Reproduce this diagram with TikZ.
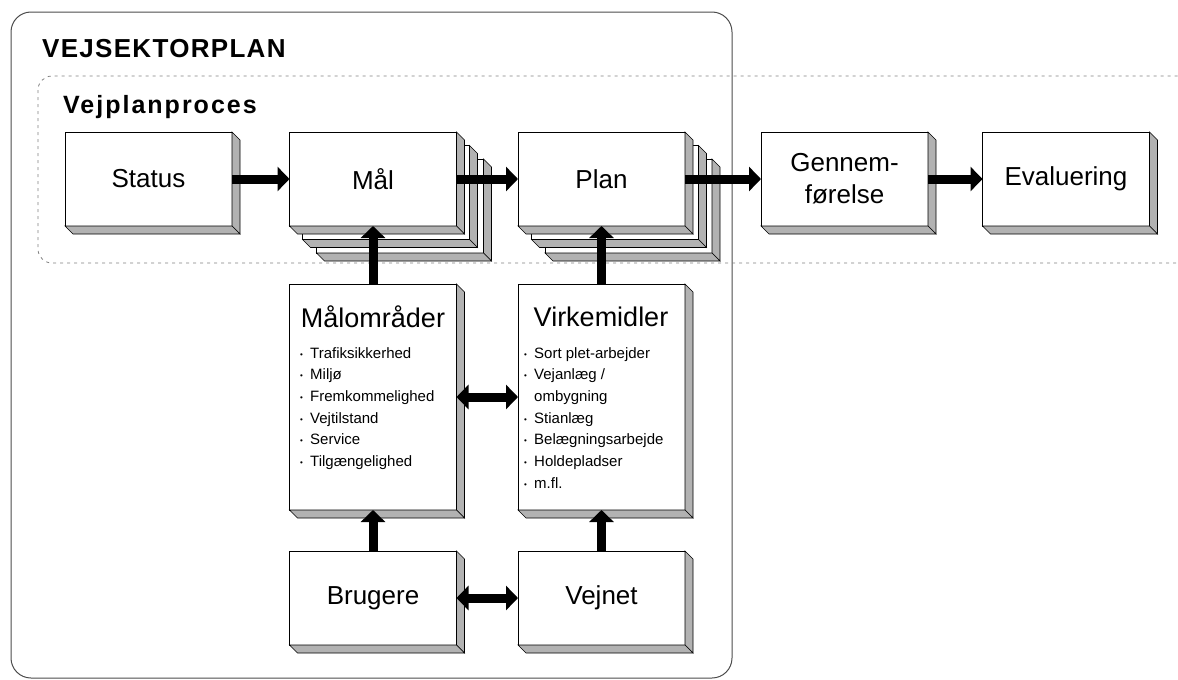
\documentclass[tikz,border=0pt]{standalone}
\usepackage{fontspec}
\setmainfont{Liberation Sans}
\newfontfamily\planfont[LetterSpace=5]{Liberation Sans}
\newfontfamily\procfont[LetterSpace=8]{Liberation Sans}
\usetikzlibrary{arrows.meta}

\definecolor{facegray}{gray}{0.7}

% gray side and bottom faces of a box
\newcommand{\boxbevel}[1]{%
    \filldraw[face] (#1.north east) -- ++(8,8) -- ([shift={(8,8)}]#1.south east) -- (#1.south east) -- cycle;
    \filldraw[face] (#1.south west) -- ++(8,8) -- ([shift={(8,8)}]#1.south east) -- (#1.south east) -- cycle;
}
% small bullet in front of a list line
\newcommand{\itm}{\makebox[10pt][l]{\raisebox{1pt}{\fontsize{8}{8}\selectfont\textbullet}}}

\begin{document}
\begin{tikzpicture}[x=1pt, y=-1pt,
    box/.style={draw, fill=white, line width=0.8pt, minimum width=167pt, minimum height=94pt,
        inner sep=0pt, outer sep=0pt, align=center, font=\fontsize{26}{32}\selectfont},
    tallbox/.style={box, minimum height=226pt},
    face/.style={draw, fill=facegray, line width=0.6pt},
    heading/.style={inner sep=0pt, font=\fontsize{27}{30}\selectfont},
    itemlist/.style={inner sep=0pt, anchor=north west, align=left, font=\fontsize{15}{21.7}\selectfont},
    blockarrow/.style={line width=9pt, -{Triangle[length=12pt, width=24pt]}},
    twoway/.style={line width=9pt, {Triangle[length=12pt, width=24pt]}-{Triangle[length=12pt, width=24pt]}}]

    \useasboundingbox (0,0) rectangle (1178,680);
    \clip (0,0) rectangle (1178,680);

    % the road sector plan frame
    \draw[black!70, line width=1pt, rounded corners=20pt] (11,12) rectangle (732,678);
    \node[anchor=base west, inner sep=0pt, font=\planfont\bfseries\fontsize{26}{30}\selectfont] (sektor) at (42,57) {VEJSEKTORPLAN};

    % the planning process band, running off to the right
    \draw[gray, line width=0.8pt, dash pattern=on 3pt off 4pt, rounded corners=14pt] (38,76) rectangle (1200,263);
    \node[anchor=base west, inner sep=0pt, font=\procfont\bfseries\fontsize{25}{30}\selectfont] (proces) at (63,113) {Vejplanproces};

    % sheets behind Mål and Plan
    \node[box] (mal3) at (400,206) {}; \boxbevel{mal3}
    \node[box] (mal2) at (386,192.5) {}; \boxbevel{mal2}
    \node[box] (plan3) at (628.5,206) {}; \boxbevel{plan3}
    \node[box] (plan2) at (615,192.5) {}; \boxbevel{plan2}

    % process steps
    \node[box] (status) at (148.5,179) {Status}; \boxbevel{status}
    \node[box] (mal) at (373,179) {Mål}; \boxbevel{mal}
    \node[box] (plan) at (601.5,179) {Plan}; \boxbevel{plan}
    \node[box] (gennem) at (844.5,179) {Gennem-\\førelse}; \boxbevel{gennem}
    \node[box] (eval) at (1066,179) {Evaluering}; \boxbevel{eval}

    % target areas and means
    \node[tallbox] (malomr) at (373,397) {}; \boxbevel{malomr}
    \node[heading] (malomrhead) at (373,317) {Målområder};
    \node[itemlist] (malomrlist) at (300,347) {\itm Trafiksikkerhed\\ \itm Miljø\\ \itm Fremkommelighed\\
        \itm Vejtilstand\\ \itm Service\\ \itm Tilgængelighed};
    \node[tallbox] (virk) at (601.5,397) {}; \boxbevel{virk}
    \node[heading] (virkhead) at (601,317) {Virkemidler};
    \node[itemlist] (virklist) at (524,347) {\itm Sort plet-arbejder\\ \itm Vejanlæg /\\ \hspace*{10pt}ombygning\\
        \itm Stianlæg\\ \itm Belægningsarbejde\\ \itm Holdepladser\\ \itm m.fl.};

    % users and road network
    \node[box] (brug) at (373,598) {Brugere}; \boxbevel{brug}
    \node[box] (vejnet) at (601.5,598) {Vejnet}; \boxbevel{vejnet}

    % arrows along the process
    \draw[blockarrow] (status) -- (mal);
    \draw[blockarrow] (mal) -- (plan);
    \draw[blockarrow] (plan) -- (gennem);
    \draw[blockarrow] (gennem) -- (eval);
    % arrows feeding the process
    \draw[blockarrow] (malomr) -- (mal);
    \draw[blockarrow] (virk) -- (plan);
    \draw[blockarrow] (brug) -- (malomr);
    \draw[blockarrow] (vejnet) -- (virk);
    \draw[twoway] (malomr) -- (virk);
    \draw[twoway] (brug) -- (vejnet);

\end{tikzpicture}
\end{document}
